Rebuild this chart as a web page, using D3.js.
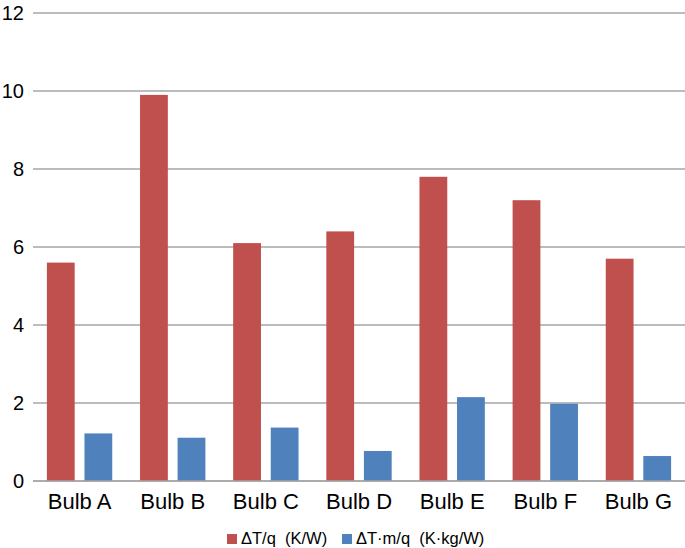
<!DOCTYPE html>
<html><head><meta charset="utf-8">
<script src="https://cdn.jsdelivr.net/npm/d3@7"></script>
<style>body{margin:0;background:#fff;}svg{display:block;font-family:"Liberation Sans",Arial,Helvetica,sans-serif;}</style>
</head><body>
<svg id="c" width="685" height="548"></svg>
<script>
const categories = ["Bulb A","Bulb B","Bulb C","Bulb D","Bulb E","Bulb F","Bulb G"];
const seriesNames = ["ΔT/q  (K/W)", "ΔT·m/q  (K·kg/W)"];
const seriesColors = ["#C0504D", "#4F81BD"];
const dtq = [5.6, 9.9, 6.1, 6.4, 7.8, 7.2, 5.7];
const dtmq = [1.22, 1.11, 1.37, 0.77, 2.15, 1.98, 0.64];
const yTicks = [0, 2, 4, 6, 8, 10, 12];

(function(){
const svg = d3.select("#c");
const mLeft = 33, mRight = 685, mTop = 13, mBottom = 481;
const x0 = d3.scaleBand().domain(categories).range([mLeft, mRight]).paddingInner(0).paddingOuter(0);
const x1 = d3.scaleBand().domain([0,1]).range([0, x0.bandwidth()]).paddingInner(0.26).paddingOuter(0.37);
const y = d3.scaleLinear().domain([0, 12]).range([mBottom, mTop]);

svg.append("g").selectAll("line").data(yTicks).join("line")
  .attr("x1", mLeft).attr("x2", mRight)
  .attr("y1", d => y(d)).attr("y2", d => y(d))
  .attr("stroke", "#A6A6A6").attr("stroke-width", 1.6);

const yAxis = d3.axisLeft(y).tickValues(yTicks).tickSize(0).tickPadding(9);
const ya = svg.append("g").attr("transform", `translate(${mLeft},0)`).call(yAxis);
ya.select(".domain").remove();
ya.selectAll("text").attr("font-size", 20).attr("fill", "#000").attr("font-family", "Liberation Sans, Arial, sans-serif");

const data = categories.map((c, i) => ({c, v: [dtq[i], dtmq[i]]}));
const g = svg.append("g");
data.forEach(d => {
  d.v.forEach((v, s) => {
    g.append("rect")
      .attr("x", x0(d.c) + x1(s))
      .attr("width", x1.bandwidth())
      .attr("y", y(v))
      .attr("height", y(0) - y(v))
      .attr("fill", seriesColors[s]);
  });
});

svg.append("line").attr("x1", mLeft).attr("x2", mRight).attr("y1", y(0)).attr("y2", y(0))
  .attr("stroke", "#A6A6A6").attr("stroke-width", 1.6);

const xAxis = d3.axisBottom(x0).tickSize(0).tickPadding(12);
const xa = svg.append("g").attr("transform", `translate(0,${mBottom})`).call(xAxis);
xa.select(".domain").remove();
xa.selectAll("text").attr("font-size", 22).attr("fill", "#000").attr("font-family", "Liberation Sans, Arial, sans-serif");

const leg = svg.append("g");
const legX = [227, 342];
seriesNames.forEach((n, i) => {
  leg.append("rect").attr("x", legX[i]).attr("y", 534).attr("width", 10).attr("height", 10).attr("fill", seriesColors[i]);
  leg.append("text").attr("x", legX[i] + 14).attr("y", 544).attr("font-size", 16.5).attr("fill", "#000")
    .attr("xml:space", "preserve").style("white-space", "pre").text(n);
});
})();
</script>
</body></html>
